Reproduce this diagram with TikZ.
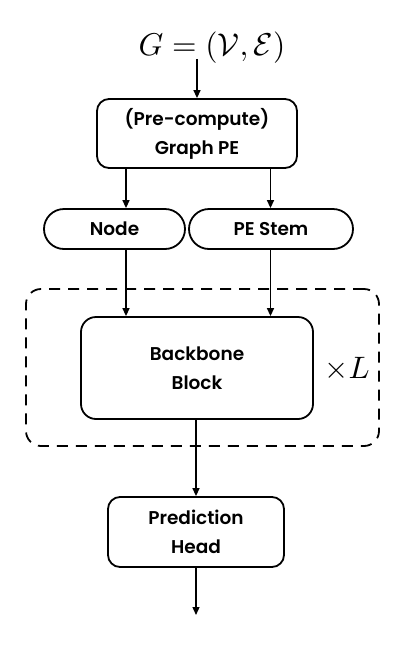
\documentclass[tikz,border=0pt]{standalone}
\usepackage{fontspec}
\setmainfont{Poppins}[BoldFont={Poppins SemiBold}]
\usetikzlibrary{arrows.meta}
\tikzset{
  block/.style={draw=black, line width=1.8pt, rounded corners=#1, align=center,
    font=\fontsize{18.5}{29}\selectfont\bfseries},
  block/.default=12pt,
  arr/.style={-{Triangle[length=8pt,width=7pt]}, line width=1.3pt},
  loopbox/.style={draw=black, line width=1.8pt, dash pattern=on 11pt off 8pt,
    rounded corners=15pt, minimum width=353pt, minimum height=157pt}
}
\begin{document}
\begin{tikzpicture}[x=1pt, y=-1pt]
\useasboundingbox (0,0) rectangle (412,654);
% input graph
\node [inner sep=0pt, scale=3.15] (graph) at (212,47.5) {$G=(\mathcal{V},\mathcal{E})$};
\node [block, minimum width=200pt, minimum height=69pt] (pe) at (197,133.5) {(Pre-compute)\\Graph PE};
\node [block=20pt, minimum width=141pt, minimum height=40pt] (feat) at (114.5,229) {Node};
\node [block=20pt, minimum width=164pt, minimum height=40pt] (stem) at (271,229) {PE Stem};
% repeated backbone
\node [loopbox] (loop) at (202.5,367.5) {};
\node [block=15pt, minimum width=232pt, minimum height=102pt] (backbone) at (197,368) {Backbone\\Block};
\node [inner sep=0pt, scale=3.1] (times) at (347,369) {$\times L$};
\node [block, minimum width=176pt, minimum height=70pt] (head) at (196,532) {Prediction\\Head};
\coordinate (lx) at (126,0);
\coordinate (rx) at (270.5,0);
\coordinate (out) at (196,615);
% connectors
\draw [arr] ([yshift=5pt]graph.south -| pe.north) -- (pe.north);
\draw [arr] (pe.south -| lx) -- (feat.north -| lx);
\draw [arr] (pe.south -| rx) -- (stem.north -| rx);
\draw [arr] (feat.south -| lx) -- (backbone.north -| lx);
\draw [arr] (stem.south -| rx) -- (backbone.north -| rx);
\draw [arr] (backbone.south -| head.north) -- (head.north);
\draw [arr] (head.south) -- (out);
\end{tikzpicture}
\end{document}
